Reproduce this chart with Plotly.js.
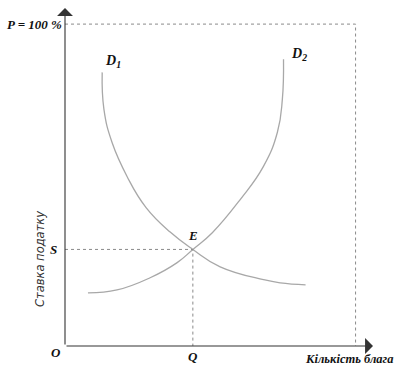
<!DOCTYPE html>
<html>
<head>
<meta charset="utf-8">
<script src="https://cdn.plot.ly/plotly-3.0.1.min.js"></script>
<style>html,body{margin:0;padding:0;background:#fff;}#chart{width:401px;height:367px;}</style>
</head>
<body>
<div id="chart"></div>
<script>
// Data
var d1X = [12.8, 13.4, 16.2, 21.4, 27.9, 36.2, 44.0, 53.4, 68.3, 74.1, 82.8];
var d1Y = [85.0, 73.5, 63.2, 52.6, 43.0, 35.4, 30.0, 24.6, 20.6, 19.6, 19.0];
var d2X = [7.9, 17.9, 29.3, 38.6, 44.0, 50.7, 60.3, 68.3, 73.1, 74.8, 75.2];
var d2Y = [16.5, 17.4, 21.2, 25.9, 30.0, 35.2, 45.5, 55.8, 66.4, 76.6, 89.1];
var eqQ = 44, eqS = 30, pMax = 100, qMax = 100;
var xMax = 106, yMax = 105;

var serif = "Liberation Serif, Times New Roman, serif";
var curveColor = "#a8a8a8";
var dotColor = "#8a8a8a";

var traces = [
  {x: d1X, y: d1Y, mode: "lines", line: {color: curveColor, width: 1.3, shape: "spline", smoothing: 1.3}, hoverinfo: "skip"},
  {x: d2X, y: d2Y, mode: "lines", line: {color: curveColor, width: 1.3, shape: "spline", smoothing: 1.3}, hoverinfo: "skip"},
  {x: [0, eqQ, eqQ], y: [eqS, eqS, 0], mode: "lines", line: {color: dotColor, width: 1, dash: "dot"}, hoverinfo: "skip"},
  {x: [0, qMax, qMax], y: [pMax, pMax, 0], mode: "lines", line: {color: dotColor, width: 1, dash: "dot"}, hoverinfo: "skip"}
];

function lbl(text, x, y, opt) {
  var a = {text: text, x: x, y: y, xref: "x", yref: "y", showarrow: false,
    font: {family: serif, size: 13, color: "#111", weight: "bold", style: "italic"}};
  for (var k in opt) a[k] = opt[k];
  return a;
}

var annotations = [
  // axis arrows
  {x: xMax, y: 0, ax: 0, ay: 0, xref: "x", yref: "y", axref: "x", ayref: "y", showarrow: true,
   arrowhead: 1, arrowsize: 2.4, arrowwidth: 1.1, arrowcolor: "#333", text: ""},
  {x: 0, y: yMax, ax: 0, ay: 0, xref: "x", yref: "y", axref: "x", ayref: "y", showarrow: true,
   arrowhead: 1, arrowsize: 2.4, arrowwidth: 1.1, arrowcolor: "#333", text: ""},
  lbl("P = 100 %", 0, pMax, {xanchor: "right", xshift: -1}),
  lbl("D<sub>1</sub>", 16.5, 88.5, {font: {family: serif, size: 14, color: "#111", weight: "bold", style: "italic"}}),
  lbl("D<sub>2</sub>", 80.5, 90.5, {font: {family: serif, size: 14, color: "#111", weight: "bold", style: "italic"}}),
  lbl("E", eqQ, eqS, {yshift: 14}),
  lbl("S", 0, eqS, {xanchor: "right", xshift: -6}),
  lbl("O", 0, 0, {xanchor: "right", xshift: -2, yshift: -6}),
  lbl("Q", eqQ, 0, {yshift: -10}),
  lbl("Кількість блага", xMax, 0, {xanchor: "right", xshift: 22, yshift: -13, font: {family: serif, size: 12.5, color: "#111", weight: "bold", style: "italic"}}),
  {text: "Ставка податку", x: 0, y: 27, xref: "x", yref: "y", showarrow: false, textangle: -90, xshift: -25,
   font: {family: "DejaVu Sans, sans-serif", size: 11.5, color: "#333", style: "italic"}}
];

var layout = {
  width: 401, height: 367,
  margin: {l: 65, r: 28, t: 8, b: 21},
  paper_bgcolor: "#fff", plot_bgcolor: "#fff",
  showlegend: false,
  xaxis: {range: [0, xMax], showgrid: false, zeroline: false, showticklabels: false, ticks: "", showline: false, fixedrange: true},
  yaxis: {range: [0, yMax], showgrid: false, zeroline: false, showticklabels: false, ticks: "", showline: false, fixedrange: true},
  annotations: annotations
};

Plotly.newPlot("chart", traces, layout, {staticPlot: true, displayModeBar: false});
</script>
</body>
</html>
